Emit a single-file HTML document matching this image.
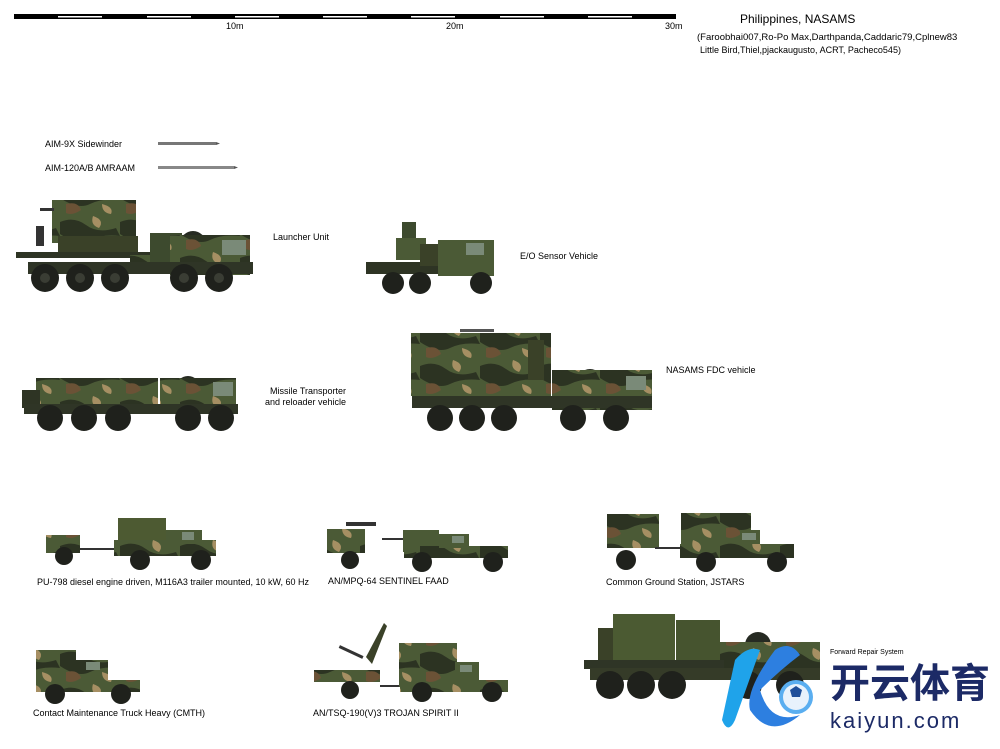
<!DOCTYPE html>
<html><head><meta charset="utf-8"><style>
html,body{margin:0;padding:0;background:#fff;width:1000px;height:749px;overflow:hidden}
svg{display:block}
text{font-family:"Liberation Sans",sans-serif;font-size:9px;fill:#000}
</style></head><body>
<svg width="1000" height="749" viewBox="0 0 1000 749" xmlns="http://www.w3.org/2000/svg">
<defs>
<pattern id="camo" width="60" height="36" patternUnits="userSpaceOnUse">
<rect width="60" height="36" fill="#4b5a36"/>
<path d="M0 6 Q14 0 26 9 T56 12 L60 20 Q42 18 30 24 T0 18Z" fill="#2c3322"/>
<path d="M33 0 Q45 4 39 12 Q30 9 33 0Z" fill="#a68f63"/>
<path d="M6 24 Q18 21 21 30 Q12 36 6 33Z" fill="#6b5236"/>
<path d="M42 24 Q54 27 51 34 Q42 33 42 24Z" fill="#a68f63"/>
</pattern>
</defs>

<!-- scale bar -->
<rect x="14" y="14" width="662" height="5" fill="#000"/>
<g fill="#fff"><rect x="58" y="16" width="44" height="1.5"/><rect x="147" y="16" width="44" height="1.5"/><rect x="235" y="16" width="44" height="1.5"/><rect x="323" y="16" width="44" height="1.5"/><rect x="411" y="16" width="44" height="1.5"/><rect x="500" y="16" width="44" height="1.5"/><rect x="588" y="16" width="44" height="1.5"/></g>
<text x="226" y="29">10m</text><text x="446" y="29">20m</text><text x="665" y="29">30m</text>
<text x="740" y="23" style="font-size:12px">Philippines, NASAMS</text>
<text x="697" y="40" style="font-size:9.5px">(Faroobhai007,Ro-Po Max,Darthpanda,Caddaric79,Cplnew83</text>
<text x="700" y="53" style="font-size:9px">Little Bird,Thiel,pjackaugusto, ACRT, Pacheco545)</text>

<!-- missiles -->
<text x="45" y="147">AIM-9X Sidewinder</text>
<rect x="158" y="142" width="58" height="3" fill="#777"/><path d="M216 142l4 1.5-4 1.5z" fill="#555"/>
<text x="45" y="171">AIM-120A/B AMRAAM</text>
<rect x="158" y="166" width="76" height="3" fill="#888"/><path d="M234 166l4 1.5-4 1.5z" fill="#555"/>

<!-- 1 launcher -->
<rect x="52" y="200" width="84" height="43" fill="url(#camo)"/>
<rect x="40" y="208" width="14" height="3" fill="#333"/>
<rect x="36" y="226" width="8" height="20" fill="#333"/>
<rect x="58" y="236" width="80" height="16" fill="#3a4128"/>
<rect x="16" y="252" width="140" height="6" fill="#2e3424"/>
<rect x="130" y="255" width="40" height="18" fill="url(#camo)"/>
<rect x="150" y="233" width="32" height="35" fill="#3d4a2e"/>
<circle cx="193" cy="244" r="13" fill="#262a22"/>
<rect x="170" y="235" width="80" height="40" fill="url(#camo)"/>
<rect x="222" y="240" width="24" height="15" fill="#7a8a78"/>
<rect x="28" y="262" width="225" height="12" fill="#2f3526"/>
<g fill="#1f211c"><circle cx="45" cy="278" r="14"/><circle cx="80" cy="278" r="14"/><circle cx="115" cy="278" r="14"/><circle cx="184" cy="278" r="14"/><circle cx="219" cy="278" r="14"/></g>
<g fill="#3a3d34"><circle cx="45" cy="278" r="5"/><circle cx="80" cy="278" r="5"/><circle cx="115" cy="278" r="5"/><circle cx="184" cy="278" r="5"/><circle cx="219" cy="278" r="5"/></g>
<text x="273" y="240">Launcher Unit</text>

<!-- 2 E/O sensor -->
<rect x="402" y="222" width="14" height="36" fill="#3d4a2e"/>
<rect x="396" y="238" width="30" height="22" fill="#4b5a36"/>
<rect x="366" y="262" width="80" height="12" fill="#2e3424"/>
<rect x="438" y="240" width="56" height="36" fill="#4b5a36"/>
<rect x="466" y="243" width="18" height="12" fill="#7a8a78"/>
<rect x="420" y="244" width="18" height="22" fill="#3a4128"/>
<g fill="#1f211c"><circle cx="393" cy="283" r="11"/><circle cx="420" cy="283" r="11"/><circle cx="481" cy="283" r="11"/></g>
<text x="520" y="259">E/O Sensor Vehicle</text>

<!-- 3 missile transporter -->
<rect x="36" y="378" width="122" height="32" fill="url(#camo)"/>
<rect x="22" y="390" width="18" height="18" fill="#2e3424"/>
<circle cx="188" cy="388" r="12" fill="#262a22"/>
<rect x="160" y="378" width="76" height="36" fill="url(#camo)"/>
<rect x="213" y="382" width="20" height="14" fill="#7a8a78"/>
<rect x="24" y="404" width="214" height="10" fill="#2f3526"/>
<g fill="#1f211c"><circle cx="50" cy="418" r="13"/><circle cx="84" cy="418" r="13"/><circle cx="118" cy="418" r="13"/><circle cx="188" cy="418" r="13"/><circle cx="221" cy="418" r="13"/></g>
<text x="270" y="394">Missile Transporter</text>
<text x="265" y="405">and reloader vehicle</text>

<!-- 4 FDC -->
<rect x="460" y="329" width="34" height="3" fill="#555"/>
<rect x="411" y="333" width="140" height="63" fill="url(#camo)"/>
<rect x="528" y="340" width="16" height="40" fill="#3a4128"/>
<circle cx="590" cy="382" r="13" fill="#262a22"/>
<rect x="552" y="370" width="100" height="40" fill="url(#camo)"/>
<rect x="626" y="376" width="20" height="14" fill="#7a8a78"/>
<rect x="412" y="396" width="240" height="12" fill="#2f3526"/>
<g fill="#1f211c"><circle cx="440" cy="418" r="13"/><circle cx="472" cy="418" r="13"/><circle cx="504" cy="418" r="13"/><circle cx="573" cy="418" r="13"/><circle cx="616" cy="418" r="13"/></g>
<text x="666" y="373">NASAMS FDC vehicle</text>

<!-- 5 PU-798 -->
<rect x="46" y="535" width="34" height="18" fill="url(#camo)"/>
<rect x="80" y="548" width="40" height="2" fill="#333"/>
<circle cx="64" cy="556" r="9" fill="#1f211c"/>
<rect x="118" y="518" width="48" height="26" fill="#4d5a32"/>
<rect x="114" y="540" width="102" height="16" fill="url(#camo)"/>
<rect x="166" y="530" width="36" height="14" fill="#4b5a36"/>
<rect x="182" y="532" width="12" height="8" fill="#7a8a78"/>
<g fill="#1f211c"><circle cx="140" cy="560" r="10"/><circle cx="201" cy="560" r="10"/></g>
<text x="37" y="585">PU-798 diesel engine driven, M116A3 trailer mounted, 10 kW, 60 Hz</text>

<!-- 6 Sentinel -->
<rect x="346" y="522" width="30" height="4" fill="#333"/>
<rect x="327" y="529" width="38" height="24" fill="url(#camo)"/>
<circle cx="350" cy="560" r="9" fill="#1f211c"/>
<rect x="382" y="538" width="50" height="2" fill="#333"/>
<rect x="403" y="530" width="36" height="22" fill="#4b5a36"/>
<rect x="404" y="546" width="104" height="12" fill="url(#camo)"/>
<rect x="439" y="534" width="30" height="14" fill="#4b5a36"/>
<rect x="452" y="536" width="12" height="7" fill="#7a8a78"/>
<g fill="#1f211c"><circle cx="422" cy="562" r="10"/><circle cx="493" cy="562" r="10"/></g>
<text x="328" y="584">AN/MPQ-64 SENTINEL FAAD</text>

<!-- 7 CGS -->
<rect x="607" y="514" width="52" height="34" fill="url(#camo)"/>
<circle cx="626" cy="560" r="10" fill="#1f211c"/>
<rect x="655" y="547" width="40" height="2" fill="#333"/>
<rect x="681" y="513" width="70" height="40" fill="url(#camo)"/>
<rect x="680" y="544" width="114" height="14" fill="url(#camo)"/>
<rect x="740" y="530" width="20" height="14" fill="#4b5a36"/>
<rect x="742" y="533" width="14" height="7" fill="#7a8a78"/>
<g fill="#1f211c"><circle cx="706" cy="562" r="10"/><circle cx="777" cy="562" r="10"/></g>
<text x="606" y="585">Common Ground Station, JSTARS</text>

<!-- 8 CMTH -->
<rect x="36" y="650" width="40" height="42" fill="url(#camo)"/>
<rect x="74" y="660" width="34" height="24" fill="url(#camo)"/>
<rect x="86" y="662" width="14" height="8" fill="#7a8a78"/>
<rect x="36" y="680" width="104" height="12" fill="url(#camo)"/>
<g fill="#1f211c"><circle cx="55" cy="694" r="10"/><circle cx="121" cy="694" r="10"/></g>
<text x="33" y="716">Contact Maintenance Truck Heavy (CMTH)</text>

<!-- 9 Trojan spirit -->
<path d="M366 657 L384 623 L387 626 L372 664Z" fill="#3a4128"/>
<rect x="338" y="650" width="26" height="3" fill="#333" transform="rotate(25 350 652)"/>
<rect x="314" y="670" width="66" height="12" fill="url(#camo)"/>
<circle cx="350" cy="690" r="9" fill="#1f211c"/>
<rect x="380" y="685" width="30" height="2" fill="#333"/>
<rect x="399" y="643" width="58" height="44" fill="url(#camo)"/>
<rect x="400" y="680" width="108" height="12" fill="url(#camo)"/>
<rect x="455" y="662" width="24" height="20" fill="#4b5a36"/>
<rect x="460" y="665" width="12" height="7" fill="#7a8a78"/>
<g fill="#1f211c"><circle cx="422" cy="692" r="10"/><circle cx="492" cy="692" r="10"/></g>
<text x="313" y="716">AN/TSQ-190(V)3 TROJAN SPIRIT II</text>

<!-- 10 FRS -->
<rect x="598" y="628" width="18" height="38" fill="#3a4128"/>
<rect x="613" y="614" width="62" height="52" fill="#4b5a32"/>
<rect x="676" y="620" width="44" height="46" fill="#46542f"/>
<circle cx="758" cy="645" r="13" fill="#262a22"/>
<rect x="720" y="642" width="100" height="30" fill="url(#camo)"/>
<rect x="584" y="660" width="140" height="9" fill="#2f3526"/>
<rect x="590" y="668" width="230" height="12" fill="#353b28"/>
<g fill="#1f211c"><circle cx="610" cy="685" r="14"/><circle cx="641" cy="685" r="14"/><circle cx="672" cy="685" r="14"/><circle cx="748" cy="685" r="14"/><circle cx="790" cy="685" r="14"/></g>
<text x="830" y="654" style="font-size:7px">Forward Repair System</text>

<!-- watermark -->
<path d="M735 660 Q748 645 760 650 L735 720 Q728 735 722 720Z" fill="#1fa3ea"/>
<path d="M775 650 Q790 640 800 655 Q780 670 760 690 Q770 725 800 715 Q770 740 750 710 Q745 690 775 650Z" fill="#2d7fe0"/>
<circle cx="796" cy="697" r="17" fill="#5aaef0"/><circle cx="796" cy="697" r="13" fill="#e8f2fc"/>
<path d="M790 690l6-4 6 4-2 7h-8z" fill="#1f4f9a"/>
<text x="830" y="697" style="font-family:'Noto Sans CJK SC',sans-serif;font-size:40px;font-weight:bold;fill:#1c2a66">开云体育</text>
<text x="830" y="728" style="font-size:22px;fill:#1c2a66;letter-spacing:2px">kaiyun.com</text>
</svg>
</body></html>
